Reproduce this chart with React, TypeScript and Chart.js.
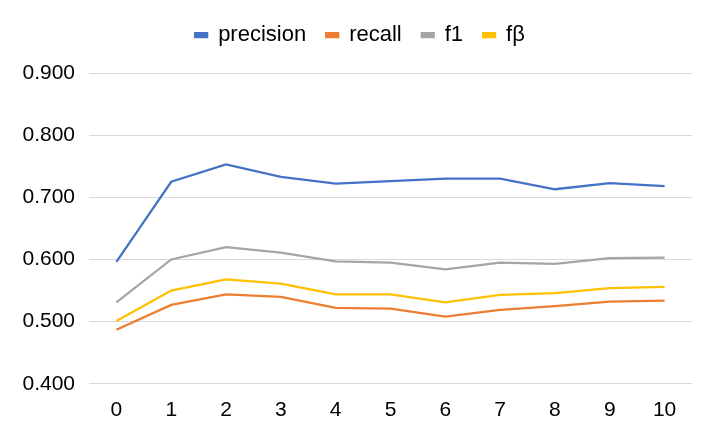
import React, { useEffect, useRef } from "react";
import { Chart, registerables } from "chart.js";

Chart.register(...registerables);

const categories = ["0", "1", "2", "3", "4", "5", "6", "7", "8", "9", "10"];
const precision = [0.596, 0.725, 0.753, 0.733, 0.722, 0.726, 0.73, 0.73, 0.713, 0.723, 0.718];
const recall = [0.487, 0.527, 0.544, 0.54, 0.522, 0.521, 0.508, 0.519, 0.525, 0.532, 0.534];
const f1 = [0.531, 0.6, 0.62, 0.611, 0.597, 0.595, 0.584, 0.595, 0.593, 0.602, 0.603];
const fbeta = [0.501, 0.55, 0.568, 0.561, 0.544, 0.544, 0.531, 0.543, 0.546, 0.554, 0.556];
const seriesNames = ["precision", "recall", "f1", "fβ"];
const seriesColors = ["#4472C4", "#ED7D31", "#A5A5A5", "#FFC000"];

const legendGap = {
  id: "legendGap",
  beforeInit(chart: any) {
    const orig = chart.legend.fit;
    chart.legend.fit = function () {
      orig.call(this);
      this.height += 17;
    };
  },
  afterLayout(chart: any) {
    chart.legend.left = 0;
    chart.legend.right = 720;
  },
};

export default function App() {
  const ref = useRef<HTMLCanvasElement | null>(null);
  useEffect(() => {
    const values = [precision, recall, f1, fbeta];
    const chart = new Chart(ref.current!, {
      type: "line",
      data: {
        labels: categories,
        datasets: values.map((v, i) => ({
          label: seriesNames[i],
          data: v,
          borderColor: seriesColors[i],
          backgroundColor: seriesColors[i],
          borderWidth: 2.25,
          pointRadius: 0,
          tension: 0,
        })),
      },
      plugins: [legendGap],
      options: {
        animation: false,
        responsive: false,
        layout: { padding: { top: 4, right: 23, left: 0, bottom: 5 } },
        plugins: {
          tooltip: { enabled: false },
          legend: {
            position: "top",
            labels: {
              font: { family: "Liberation Sans", size: 22 },
              color: "#000",
              boxWidth: 12,
              boxHeight: 4,
              padding: 20,
            },
          },
        },
        scales: {
          x: {
            offset: true,
            grid: { display: false, drawTicks: false },
            border: { display: false },
            ticks: { font: { family: "Liberation Sans", size: 21 }, color: "#000", padding: 14 },
          },
          y: {
            min: 0.4,
            max: 0.9,
            grid: { color: "#D9D9D9", lineWidth: 1, drawTicks: false },
            border: { display: false },
            ticks: {
              stepSize: 0.1,
              font: { family: "Liberation Sans", size: 21 },
              color: "#000",
              padding: 14,
              callback: (v: any) => Number(v).toFixed(3),
            },
            afterFit: (s: any) => {
              s.width = 89;
            },
          },
        },
      },
    });
    return () => chart.destroy();
  }, []);
  return (
    <div style={{ position: "fixed", left: 0, top: 0, width: 715, height: 442, background: "#fff" }}>
      <canvas ref={ref} width={715} height={442} />
    </div>
  );
}
